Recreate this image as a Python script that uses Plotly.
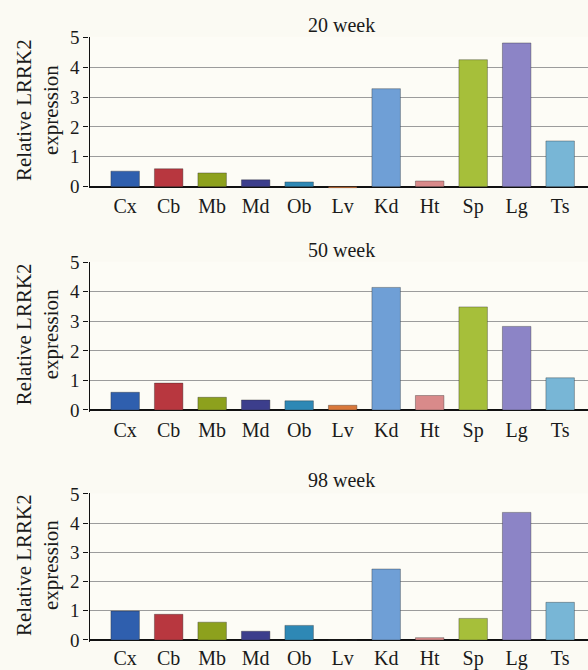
import plotly.graph_objects as go

categories = ["Cx", "Cb", "Mb", "Md", "Ob", "Lv", "Kd", "Ht", "Sp", "Lg", "Ts"]
week20 = [0.52, 0.60, 0.46, 0.23, 0.16, -0.04, 3.28, 0.19, 4.25, 4.81, 1.53]
week50 = [0.60, 0.91, 0.43, 0.34, 0.31, 0.16, 4.15, 0.49, 3.49, 2.83, 1.09]
week98 = [0.99, 0.88, 0.61, 0.30, 0.50, 0.00, 2.43, 0.08, 0.74, 4.37, 1.29]
panel_titles = ["20 week", "50 week", "98 week"]
y_ticks = [0, 1, 2, 3, 4, 5]
bar_colors = ["#2f5fae", "#b8373f", "#8da11d", "#3c3e8c", "#2e88b5", "#d9783a",
              "#6f9fd6", "#d98a8a", "#a6bf3a", "#8c84c6", "#78b6d6"]

W, H = 588, 670
# pixel rows of (value 5, value 0) for each panel
panel_px = [(37.3, 186.7), (262.3, 410.0), (494.0, 640.0)]
title_px = [25, 250, 480]
label_standoff = [4, 4, 2]
ymin, ymax = -0.06, 5.02
font_family = "Liberation Serif, Times New Roman, serif"

fig = go.Figure()
series = [week20, week50, week98]
annotations = []
for i, vals in enumerate(series):
    top5, zero = panel_px[i]
    ppu = (zero - top5) / 5.0
    px_top = zero - ymax * ppu
    px_bot = zero - ymin * ppu
    dom = [1 - px_bot / H, 1 - px_top / H]
    n = i + 1
    xa = "x" if n == 1 else f"x{n}"
    ya = "y" if n == 1 else f"y{n}"
    fig.add_trace(go.Bar(
        x=categories, y=vals, xaxis=xa, yaxis=ya,
        marker=dict(color=bar_colors, line=dict(color="rgba(40,40,40,0.45)", width=0.8)),
        showlegend=False, hoverinfo="skip",
    ))
    xkey = "xaxis" if n == 1 else f"xaxis{n}"
    ykey = "yaxis" if n == 1 else f"yaxis{n}"
    fig.update_layout({
        xkey: dict(domain=[89.5 / W, 1.0], anchor=ya, range=[-0.82, 10.64],
                   type="category", showgrid=False, showline=False, ticks="",
                   automargin=False, ticklabelstandoff=label_standoff[i],
                   tickfont=dict(family=font_family, size=20, color="#1a1a1a"),
                   fixedrange=True),
        ykey: dict(domain=dom, anchor=xa, range=[ymin, ymax], tickvals=y_ticks,
                   showgrid=True, gridcolor="#9c9c9c", gridwidth=1.1,
                   zeroline=True, zerolinecolor="#111111", zerolinewidth=1.6,
                   showline=True, linecolor="#111111", linewidth=1.3,
                   ticks="outside", ticklen=5, tickcolor="#111111",
                   automargin=False,
                   tickfont=dict(family=font_family, size=19, color="#1a1a1a"),
                   fixedrange=True),
    })
    annotations.append(dict(
        text=panel_titles[i], x=341 / W, y=1 - title_px[i] / H,
        xref="paper", yref="paper", xanchor="center", yanchor="middle",
        showarrow=False, font=dict(family=font_family, size=20, color="#1a1a1a")))
    annotations.append(dict(
        text="Relative LRRK2<br>expression", x=37 / W, y=1 - ((top5 + zero) / 2 - 2) / H,
        xref="paper", yref="paper", xanchor="center", yanchor="middle",
        textangle=-90, showarrow=False,
        font=dict(family=font_family, size=21, color="#1a1a1a")))

fig.update_layout(
    width=W, height=H, autosize=False,
    margin=dict(l=0, r=0, t=0, b=0, pad=0, autoexpand=False),
    paper_bgcolor="#fbfaf3", plot_bgcolor="#fdfcf6",
    bargap=0.345,
    annotations=annotations,
)

fig.write_html("out.html", config={"displayModeBar": False},
               post_script="document.body.style.margin='0';document.body.style.overflow='hidden';")
